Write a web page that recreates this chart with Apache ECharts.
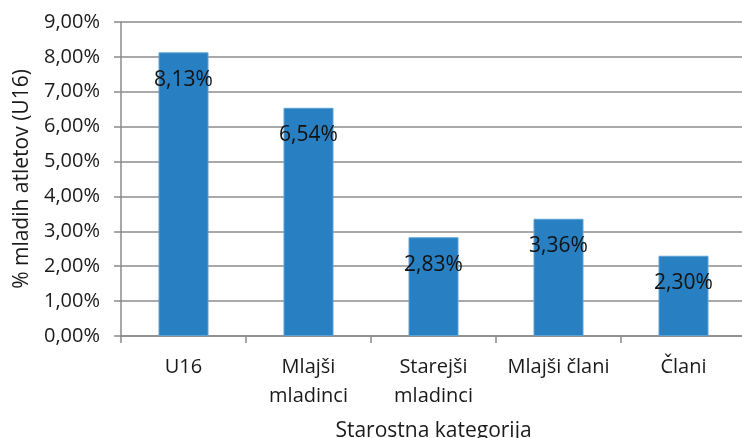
<!DOCTYPE html>
<html>
<head>
<meta charset="utf-8">
<script src="https://cdn.jsdelivr.net/npm/echarts@6/dist/echarts.min.js"></script>
<style>
  html, body { margin: 0; padding: 0; background: #fff; }
  #chart { width: 742px; height: 438px; }
</style>
</head>
<body>
<div id="chart"></div>
<script>
// Share of young athletes (U16) by age category
const categories = ['U16', 'Mlajši\nmladinci', 'Starejši\nmladinci', 'Mlajši člani', 'Člani'];
const shares = [8.13, 6.54, 2.83, 3.36, 2.30];
const yTicks = [0, 1, 2, 3, 4, 5, 6, 7, 8, 9];

const FONT = '"Open Sans", "Noto Sans", sans-serif';
const fmt = v => v.toFixed(2).replace('.', ',') + '%';

const chart = echarts.init(document.getElementById('chart'));
chart.setOption({
  animation: false,
  grid: {
    left: 121, right: -4, top: 22, bottom: 102,
    containLabel: false, outerBoundsMode: 'none'
  },
  xAxis: {
    type: 'category',
    data: categories,
    name: 'Starostna kategorija',
    nameLocation: 'middle',
    nameGap: 85,
    nameTextStyle: { fontFamily: FONT, fontSize: 21, color: '#1a1a1a' },
    axisLine: { lineStyle: { color: '#8a8a8a', width: 1.5 } },
    axisTick: { show: true, length: 7, lineStyle: { color: '#8a8a8a', width: 1.5 } },
    axisLabel: {
      fontFamily: FONT, fontSize: 20, color: '#1a1a1a',
      margin: 17, lineHeight: 29, interval: 0
    }
  },
  yAxis: {
    type: 'value',
    min: yTicks[0],
    max: yTicks[yTicks.length - 1],
    interval: 1,
    name: '% mladih atletov (U16)',
    nameLocation: 'middle',
    nameGap: 88,
    nameTextStyle: { fontFamily: FONT, fontSize: 21, color: '#1a1a1a' },
    axisLine: { show: true, lineStyle: { color: '#8a8a8a', width: 1.5 } },
    axisTick: { show: true, length: 7, lineStyle: { color: '#8a8a8a', width: 1.5 } },
    splitLine: { lineStyle: { color: '#8c8c8c', width: 1.5 } },
    axisLabel: {
      fontFamily: FONT, fontSize: 20, color: '#1a1a1a', margin: 21,
      formatter: v => fmt(v)
    }
  },
  series: [{
    type: 'bar',
    data: shares,
    barWidth: '40%',
    itemStyle: { color: '#2880c2', borderColor: '#5aa2d6', borderWidth: 1 },
    label: {
      show: true,
      position: 'insideTop',
      distance: 17,
      fontFamily: FONT,
      fontSize: 21,
      color: '#111',
      formatter: p => fmt(p.value)
    }
  }]
});
</script>
</body>
</html>
